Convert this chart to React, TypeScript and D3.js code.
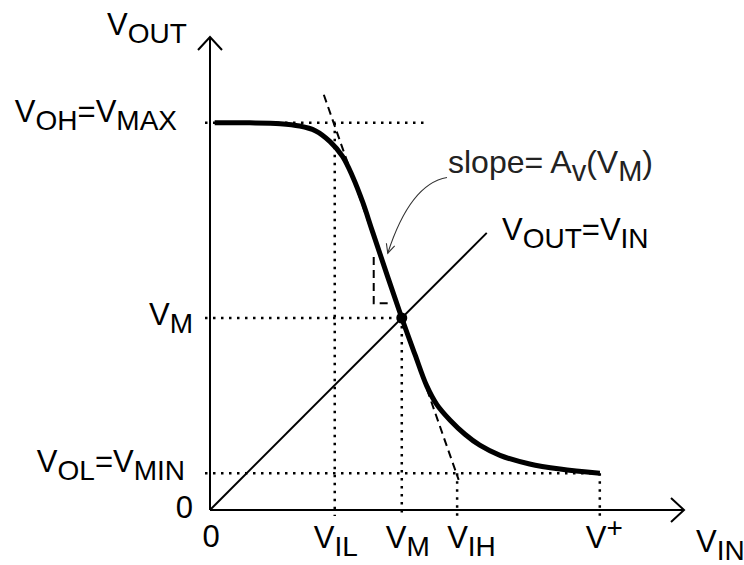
import React from "react";
import * as d3 from "d3";

// ---- data (volts) ----
const curveVin = [0.06, 0.51, 0.9, 1.15, 1.35, 1.54, 1.7, 1.83, 1.96, 2.09, 2.46, 2.63, 2.78, 2.91, 3.08, 3.27, 3.46, 3.72, 4.1, 4.49, 5.0];
const curveVout = [4.96, 4.96, 4.95, 4.92, 4.86, 4.72, 4.53, 4.27, 3.94, 3.55, 2.46, 1.99, 1.59, 1.35, 1.15, 0.97, 0.83, 0.7, 0.59, 0.525, 0.47];
const vOH = 4.96;
const vOL = 0.47;
const vM = 2.46;
const vIL = 1.6;
const vIH = 3.17;
const vPlus = 5.0;
const vohGuideEnd = 2.76;
const tangentVin = [1.46, 3.19];
const tangentVout = [5.32, 0.385];
const triVin = [2.1, 2.1, 2.33];
const triVout = [3.24, 2.65, 2.65];
const noteVin = [3.04, 2.57, 2.28];
const noteVout = [4.26, 4.18, 3.29];
const diagEnd = 3.55;
const xDomainMax = 6.08;
const yDomainMax = 6.06;

const FONT = "'Liberation Sans', Arial, Helvetica, sans-serif";
const MAIN = 31;
const SUB = 28;

type Part = { t: string; sub?: boolean; sup?: boolean };

function Label({ x, y, parts, anchor = "start", size = MAIN, subSize = SUB, fill = "#000" }: { x: number; y: number; parts: Part[]; anchor?: string; size?: number; subSize?: number; fill?: string }) {
  let shift = 0;
  return (
    <text x={x} y={y} textAnchor={anchor} fontFamily={FONT} fontSize={size} fill={fill}>
      {parts.map((p, i) => {
        const target = p.sub ? 8 : p.sup ? -11 : 0;
        const dy = target - shift;
        shift = target;
        return (
          <tspan key={i} dy={dy} fontSize={p.sub || p.sup ? subSize : size}>
            {p.t}
          </tspan>
        );
      })}
    </text>
  );
}

export default function App() {
  const W = 744;
  const H = 565;
  const x = d3.scaleLinear().domain([0, xDomainMax]).range([210, 684]);
  const y = d3.scaleLinear().domain([0, yDomainMax]).range([510, 37]);
  const x0 = x(0);
  const y0 = y(0);

  const pts: [number, number][] = curveVin.map((v, i) => [x(v), y(curveVout[i])]);
  const curvePath = d3.line().curve(d3.curveCatmullRom.alpha(0.5))(pts) || "";
  const tangentPath = d3.line()(tangentVin.map((v, i) => [x(v), y(tangentVout[i])] as [number, number])) || "";
  const triPath = d3.line()(triVin.map((v, i) => [x(v), y(triVout[i])] as [number, number])) || "";

  const n0: [number, number] = [x(noteVin[0]), y(noteVout[0])];
  const n1: [number, number] = [x(noteVin[1]), y(noteVout[1])];
  const n2: [number, number] = [x(noteVin[2]), y(noteVout[2])];
  const notePath = `M${n0[0]},${n0[1]} Q${n1[0]},${n1[1]} ${n2[0]},${n2[1]}`;
  const ang = Math.atan2(n2[1] - n1[1], n2[0] - n1[0]);
  const ah = 10;
  const a1 = [n2[0] - ah * Math.cos(ang - 0.45), n2[1] - ah * Math.sin(ang - 0.45)];
  const a2 = [n2[0] - ah * Math.cos(ang + 0.45), n2[1] - ah * Math.sin(ang + 0.45)];

  const xEnd = x(xDomainMax);
  const yEnd = y(yDomainMax);
  const dot = "2.5 5.5";
  const dotW = 2.5;

  return (
    <svg width={W} height={H} style={{ position: "absolute", left: 0, top: 0, background: "#fff" }}>
      <rect width={W} height={H} fill="#fff" />
      {/* dotted guides */}
      <g stroke="#000" strokeWidth={dotW} strokeDasharray={dot} fill="none">
        <line x1={x0 - 5} x2={x(vohGuideEnd)} y1={y(vOH)} y2={y(vOH)} />
        <line x1={x0 - 5} x2={x(vM)} y1={y(vM)} y2={y(vM)} />
        <line x1={x0 - 5} x2={x(vPlus)} y1={y(vOL)} y2={y(vOL)} />
        <line x1={x(vIL)} x2={x(vIL)} y1={y(vOH)} y2={y0 + 6} />
        <line x1={x(vM)} x2={x(vM)} y1={y(vM)} y2={y0 + 6} />
        <line x1={x(vIH)} x2={x(vIH)} y1={y(vOL)} y2={y0 + 6} />
        <line x1={x(vPlus)} x2={x(vPlus)} y1={y(vOL)} y2={y0 + 6} />
      </g>
      {/* axes */}
      <g stroke="#000" strokeWidth={2} fill="none">
        <line x1={x0} x2={x0} y1={y0} y2={yEnd} />
        <line x1={x0} x2={xEnd} y1={y0} y2={y0} />
        <polyline points={`${x0 - 12},${yEnd + 13} ${x0},${yEnd} ${x0 + 12},${yEnd + 13}`} />
        <polyline points={`${xEnd - 13},${y0 - 12} ${xEnd},${y0} ${xEnd - 13},${y0 + 12}`} />
      </g>
      {/* Vout = Vin */}
      <line x1={x0} y1={y0} x2={x(diagEnd)} y2={y(diagEnd)} stroke="#000" strokeWidth={2} />
      {/* tangent */}
      <path d={tangentPath} stroke="#000" strokeWidth={2} strokeDasharray="8 5" fill="none" />
      <path d={triPath} stroke="#000" strokeWidth={2} strokeDasharray="8 5" fill="none" />
      {/* transfer curve */}
      <path d={curvePath} stroke="#000" strokeWidth={5} fill="none" strokeLinecap="butt" />
      <circle cx={x(vM)} cy={y(vM)} r={5.5} fill="#000" />
      {/* annotation arrow */}
      <path d={notePath} stroke="#333" strokeWidth={1.1} fill="none" />
      <polyline points={`${a1[0]},${a1[1]} ${n2[0]},${n2[1]} ${a2[0]},${a2[1]}`} stroke="#333" strokeWidth={1.1} fill="none" />

      {/* y labels */}
      <Label x={x0 - 103} y={yEnd - 2} parts={[{ t: "V" }, { t: "OUT", sub: true }]} />
      <Label x={x0 - 33} y={y(vOH) - 1} anchor="end" parts={[{ t: "V" }, { t: "OH", sub: true }, { t: "=V" }, { t: "MAX", sub: true }]} />
      <Label x={x0 - 17} y={y(vM) + 7} anchor="end" parts={[{ t: "V" }, { t: "M", sub: true }]} />
      <Label x={x0 - 25} y={y(vOL) - 1} anchor="end" parts={[{ t: "V" }, { t: "OL", sub: true }, { t: "=V" }, { t: "MIN", sub: true }]} />
      <Label x={x0 - 17} y={y0 + 8} anchor="end" parts={[{ t: "0" }]} />

      {/* x labels */}
      <Label x={x0 + 1} y={y0 + 37} anchor="middle" parts={[{ t: "0" }]} />
      <Label x={x(vIL) - 21} y={y0 + 38} parts={[{ t: "V" }, { t: "IL", sub: true }]} />
      <Label x={x(vM) - 16} y={y0 + 38} parts={[{ t: "V" }, { t: "M", sub: true }]} />
      <Label x={x(vIH) - 10} y={y0 + 38} parts={[{ t: "V" }, { t: "IH", sub: true }]} />
      <Label x={x(vPlus) - 14} y={y0 + 38} parts={[{ t: "V" }, { t: "+", sup: true }]} />
      <Label x={xEnd + 12} y={y0 + 42} parts={[{ t: "V" }, { t: "IN", sub: true }]} />

      {/* annotations */}
      <Label x={448} y={173} size={32} subSize={29} fill="#222" parts={[{ t: "slope= A" }, { t: "v", sub: true }, { t: "(V" }, { t: "M", sub: true }, { t: ")" }]} />
      <Label x={502} y={240} parts={[{ t: "V" }, { t: "OUT", sub: true }, { t: "=V" }, { t: "IN", sub: true }]} />
    </svg>
  );
}
